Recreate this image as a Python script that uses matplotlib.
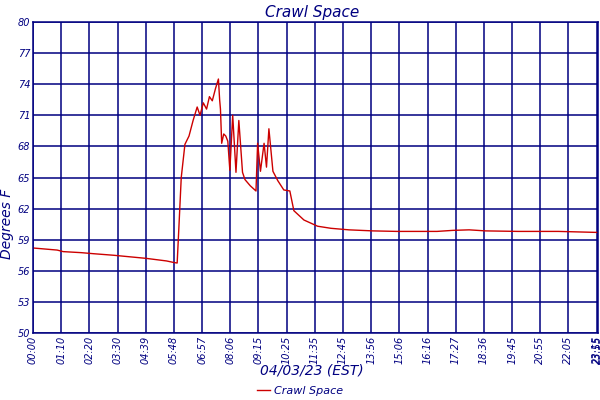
import numpy as np
import matplotlib
matplotlib.use("Agg")
import matplotlib.pyplot as plt

NAVY = "#000080"

tick_labels = ["00:00", "01:10", "02:20", "03:30", "04:39", "05:48", "06:57", "08:06",
               "09:15", "10:25", "11:35", "12:45", "13:56", "15:06", "16:16", "17:27",
               "18:36", "19:45", "20:55", "22:05", "23:15", "23:55"]
tick_minutes = [0, 70, 140, 210, 279, 348, 417, 486, 555, 625, 695, 765, 836, 906,
                976, 1047, 1116, 1185, 1255, 1325, 1395, 1435]
tick_pos = list(range(20)) + [20.0, 20.05]

minutes = [0, 30, 60, 75, 120, 150, 200, 240, 280, 300, 330, 348, 356, 360, 366, 375,
           385, 395, 405, 412, 420, 428, 435, 442, 450, 457, 460, 462, 465, 470, 475,
           480, 485, 492, 500, 507, 516, 522, 535, 549, 553, 560, 569, 575, 581, 591,
           603, 618, 633, 643, 668, 702, 735, 780, 840, 900, 960, 1000, 1040, 1080,
           1120, 1200, 1300, 1435]
temps = [58.2, 58.1, 58.0, 57.85, 57.75, 57.65, 57.5, 57.35, 57.2, 57.1, 56.95, 56.8,
         56.75, 60.0, 65.0, 68.2, 69.0, 70.5, 71.8, 71.0, 72.2, 71.6, 72.8, 72.4, 73.6,
         74.5, 72.5, 71.6, 68.3, 69.2, 69.0, 68.5, 65.7, 71.0, 65.5, 70.5, 65.5, 64.8,
         64.2, 63.7, 68.3, 65.6, 68.3, 66.0, 69.7, 65.6, 64.7, 63.8, 63.7, 61.8, 60.9,
         60.3, 60.1, 59.95, 59.85, 59.8, 59.8, 59.8, 59.9, 59.95, 59.85, 59.8, 59.8, 59.7]

x = np.interp(minutes, tick_minutes, tick_pos)

fig = plt.figure(figsize=(6, 4), dpi=100)
ax = fig.add_axes([33 / 600, 67 / 400, 565 / 600, 311 / 400])
line, = ax.plot(x, temps, color="#cc0000", linewidth=1.0, label="Crawl Space")

ax.set_xlim(0, 20.05)
ax.set_ylim(50, 80)
ax.set_yticks(np.arange(50, 81, 3))
ax.set_xticks(tick_pos)
ax.set_xticklabels(tick_labels, rotation=90)
ax.tick_params(colors=NAVY, labelsize=7, length=0, pad=2)
for lab in ax.get_xticklabels() + ax.get_yticklabels():
    lab.set_style("italic")
ax.grid(True, color=NAVY, linewidth=1.1)
for s in ax.spines.values():
    s.set_color(NAVY)
    s.set_linewidth(1.1)

fig.text(0.52, 0.968, "Crawl Space", ha="center", va="center", color=NAVY,
         fontsize=11, style="italic")
fig.text(0.012, 0.44, "Degrees F", ha="center", va="center", rotation=90,
         color=NAVY, fontsize=10, style="italic")
fig.text(0.52, 0.073, "04/03/23 (EST)", ha="center", va="center", color=NAVY,
         fontsize=10, style="italic")
leg = fig.legend(handles=[line], loc="center", bbox_to_anchor=(0.5, 0.022),
                 frameon=False, fontsize=8, handlelength=1.2, handletextpad=0.3)
for t in leg.get_texts():
    t.set_color(NAVY)
    t.set_style("italic")

fig.savefig("out.png", dpi=100)
